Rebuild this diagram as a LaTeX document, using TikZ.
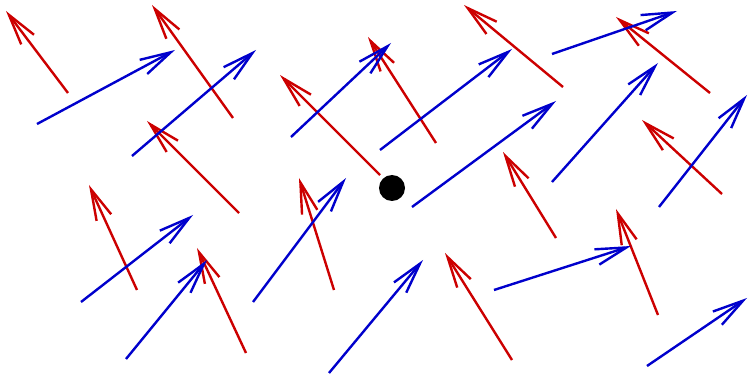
\documentclass[tikz,border=0pt]{standalone}
\usetikzlibrary{arrows.meta}
\definecolor{vred}{RGB}{204,0,0}
\definecolor{vblue}{RGB}{0,0,204}
\begin{document}
\begin{tikzpicture}[x=1pt,y=-1pt,
  vec/.style={line width=2.4pt,-{Straight Barb[length=31pt,width=16pt,line width=2.4pt]}},
  rv/.style={vec,draw=vred},
  bv/.style={vec,draw=vblue}]
\useasboundingbox (0,0) rectangle (748,374);
% red arrows
\draw[rv] (68,93) -- (6,11);
\draw[rv] (233,118) -- (152,5);
\draw[rv] (239,213) -- (147,121);
\draw[rv] (380,175) -- (280,75);
\draw[rv] (436,143) -- (368,37);
\draw[rv] (563,87) -- (464,5);
\draw[rv] (710,93) -- (616,17);
\draw[rv] (722,194) -- (642,120);
\draw[rv] (137,290) -- (89,185);
\draw[rv] (246,353) -- (197,248);
\draw[rv] (334,290) -- (299,178);
\draw[rv] (556,238) -- (503,152);
\draw[rv] (512,360) -- (445,253);
\draw[rv] (658,315) -- (616,209);
% blue arrows
\draw[bv] (37,124) -- (175,50);
\draw[bv] (132,156) -- (256,50);
\draw[bv] (291,137) -- (391,43);
\draw[bv] (380,150) -- (512,49);
\draw[bv] (552,54) -- (677,11);
\draw[bv] (552,182) -- (658,63);
\draw[bv] (412,207) -- (556,101);
\draw[bv] (659,207) -- (747,95);
\draw[bv] (81,302) -- (193,215);
\draw[bv] (126,359) -- (207,260);
\draw[bv] (253,302) -- (346,178);
\draw[bv] (329,373) -- (423,260);
\draw[bv] (494,290) -- (631,246);
\draw[bv] (647,366) -- (747,298);
% point
\fill (392,188) circle (13);
\end{tikzpicture}
\end{document}
